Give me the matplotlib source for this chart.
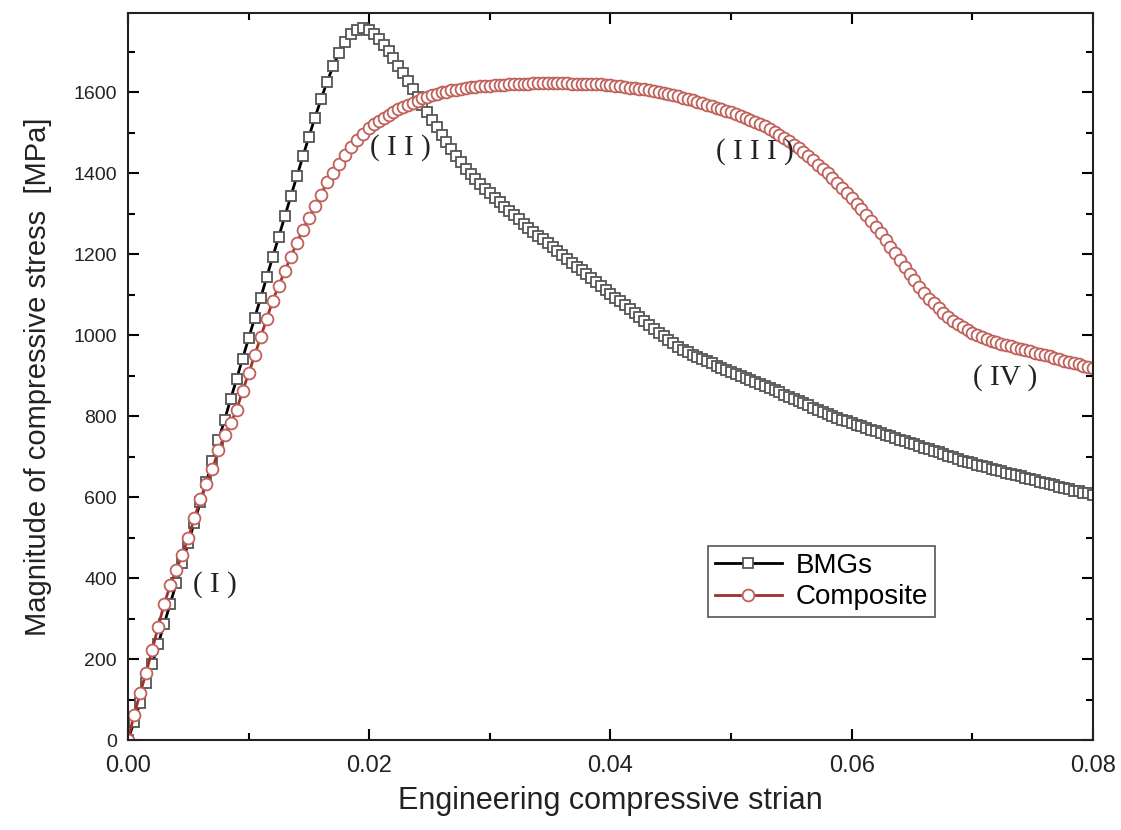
import numpy as np
import matplotlib
matplotlib.use("Agg")
import matplotlib.pyplot as plt
from matplotlib.ticker import MultipleLocator

# loading part: every 0.0005 from 0 to 0.0195
bmg_rise = [
    0, 45, 92, 140, 188, 237, 287, 337, 387, 437,
    487, 537, 588, 638, 689, 740, 790, 841, 891, 942,
    992, 1042, 1092, 1143, 1193, 1243, 1293, 1343, 1392, 1441,
    1490, 1537, 1582, 1625, 1663, 1697, 1724, 1743, 1754, 1757,
]
comp_rise = [
    0, 62, 115, 166, 222, 280, 336, 382, 420, 458,
    500, 548, 594, 633, 670, 715, 752, 782, 815, 862,
    905, 950, 995, 1040, 1085, 1122, 1158, 1193, 1228, 1260,
    1290, 1318, 1345, 1378, 1400, 1422, 1445, 1465, 1482, 1497,
]

# rest: every 0.0004 from 0.02 to 0.08
bmg_tail = [
    1752, 1743, 1731, 1717, 1701, 1683, 1665, 1646, 1627, 1607,
    1588, 1569, 1550, 1531, 1513, 1495, 1477, 1459, 1443, 1426,
    1411, 1398, 1386, 1374, 1361, 1350, 1339, 1328, 1317, 1306,
    1296, 1286, 1275, 1265, 1255, 1245, 1236, 1226, 1217, 1208,
    1198, 1188, 1179, 1169, 1160, 1150, 1140, 1131, 1121, 1112,
    1102, 1092, 1083, 1073, 1064, 1054, 1044, 1035, 1025, 1016,
    1006, 997, 988, 980, 971, 963, 957, 951, 946, 940,
    935, 930, 924, 919, 914, 909, 904, 899, 894, 889,
    885, 880, 875, 870, 864, 859, 853, 848, 842, 837,
    831, 826, 820, 815, 810, 805, 799, 795, 791, 787,
    783, 779, 775, 771, 766, 762, 758, 754, 750, 746,
    742, 738, 734, 730, 726, 722, 718, 714, 710, 706,
    702, 698, 694, 690, 686, 683, 680, 676, 673, 670,
    667, 664, 660, 657, 654, 651, 648, 645, 641, 638,
    635, 632, 629, 625, 622, 619, 616, 614, 611, 609,
    606,
]
comp_tail = [
    1511, 1520, 1528, 1536, 1544, 1551, 1557, 1563, 1569, 1574,
    1579, 1584, 1588, 1592, 1596, 1599, 1601, 1604, 1606, 1608,
    1610, 1612, 1613, 1614, 1615, 1616, 1617, 1618, 1618, 1619,
    1620, 1620, 1621, 1621, 1622, 1622, 1622, 1622, 1622, 1622,
    1622, 1622, 1621, 1621, 1621, 1620, 1620, 1619, 1619, 1618,
    1617, 1615, 1614, 1613, 1611, 1610, 1608, 1607, 1605, 1602,
    1600, 1598, 1595, 1592, 1589, 1586, 1583, 1580, 1576, 1572,
    1569, 1565, 1561, 1557, 1554, 1550, 1546, 1541, 1537, 1532,
    1527, 1521, 1515, 1508, 1501, 1494, 1486, 1478, 1470, 1461,
    1451, 1441, 1431, 1421, 1410, 1399, 1388, 1376, 1364, 1351,
    1338, 1324, 1311, 1297, 1282, 1267, 1251, 1235, 1218, 1202,
    1185, 1168, 1151, 1135, 1119, 1104, 1090, 1078, 1066, 1055,
    1045, 1035, 1027, 1019, 1012, 1006, 1000, 995, 990, 986,
    982, 979, 976, 972, 969, 966, 963, 960, 956, 953,
    950, 947, 944, 940, 937, 934, 931, 928, 924, 921,
    918,
]

strain = np.concatenate([np.round(np.arange(len(bmg_rise)) * 0.0005, 4),
                         np.round(0.02 + np.arange(len(bmg_tail)) * 0.0004, 4)])
bmg_stress = bmg_rise + bmg_tail
comp_stress = comp_rise + comp_tail

labels = ["( I )", "( I I )", "( I I I )", "( IV )"]
label_x = [0.0072, 0.0226, 0.0520, 0.0727]
label_y = [383, 1464, 1454, 895]

plt.rcParams['font.family'] = ['Liberation Sans', 'DejaVu Sans']

fig = plt.figure(figsize=(11.21, 8.30), dpi=100)
ax = fig.add_axes([0.1142, 0.1084, 0.8608, 0.8759])

ax.plot(strain, bmg_stress, color='black', lw=2, marker='s', ms=7.5,
        mfc='white', mec='#555555', mew=1.3, label='BMGs')
ax.plot(strain, comp_stress, color='#a0302a', lw=2, marker='o', ms=8.5,
        mfc='white', mec='#c0605a', mew=1.3, label='Composite')

for t, x, y in zip(labels, label_x, label_y):
    ax.text(x, y, t, fontsize=21, family='Liberation Serif', color='#222222',
            ha='center', va='center')

ax.set_xlim(0, 0.08)
ax.set_ylim(0, 1795)
ax.xaxis.set_minor_locator(MultipleLocator(0.01))
ax.yaxis.set_major_locator(MultipleLocator(200))
ax.yaxis.set_minor_locator(MultipleLocator(100))
ax.set_xticks([0, 0.02, 0.04, 0.06, 0.08])
ax.set_xticklabels(['0.00', '0.02', '0.04', '0.06', '0.08'])

ax.tick_params(which='both', direction='in', top=True, right=True,
               labelcolor='#222222', width=1.5)
ax.tick_params(which='major', length=8)
ax.tick_params(axis='x', which='major', pad=11, labelsize=17)
ax.tick_params(axis='y', which='major', pad=8, labelsize=14)
ax.tick_params(which='minor', length=5)
for s in ax.spines.values():
    s.set_linewidth(1.5)
    s.set_color('#222222')

ax.set_xlabel('Engineering compressive strian', fontsize=22, labelpad=6,
              color='#222222')
ax.set_ylabel('Magnitude of compressive stress  [MPa]', fontsize=21,
              labelpad=15, color='#222222')

leg = ax.legend(loc='upper left', bbox_to_anchor=(0.601, 0.267), fontsize=20,
                numpoints=1, fancybox=False, edgecolor='#555555',
                handlelength=2.4, handletextpad=0.5, borderpad=0.25,
                labelspacing=0.2, borderaxespad=0, framealpha=1)
leg.get_frame().set_linewidth(1.2)

fig.savefig('out.png', dpi=100)
